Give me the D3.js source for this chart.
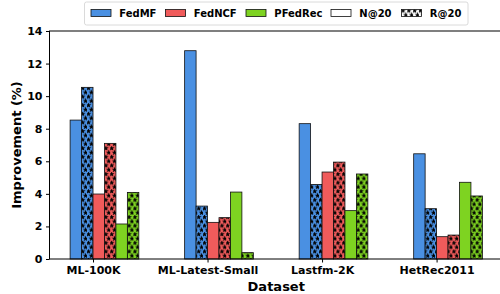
<!DOCTYPE html>
<html>
<head>
<meta charset="utf-8">
<script src="https://cdn.jsdelivr.net/npm/d3@7/dist/d3.min.js"></script>
<style>
  body { margin: 0; background: #fff; }
  text { font-family: "DejaVu Sans", sans-serif; font-weight: bold; }
</style>
</head>
<body>
<svg id="chart" width="500" height="294"></svg>
<script>
var datasets = ["ML-100K", "ML-Latest-Small", "Lastfm-2K", "HetRec2011"];
var methods = ["FedMF", "FedNCF", "PFedRec"];
var metrics = ["N@20", "R@20"];

// improvement (%) per dataset
var fedmfN  = [8.53, 12.79, 8.31, 6.46];
var fedmfR  = [10.54, 3.25, 4.58, 3.09];
var fedncfN = [3.99, 2.25, 5.34, 1.37];
var fedncfR = [7.10, 2.54, 5.95, 1.47];
var pfedN   = [2.15, 4.11, 2.97, 4.71];
var pfedR   = [4.09, 0.39, 5.22, 3.87];

var yTicks = [0, 2, 4, 6, 8, 10, 12, 14];

var colors = {FedMF: "#4a90e2", FedNCF: "#f05b5b", PFedRec: "#7ed321"};

var series = [
  {method: "FedMF", metric: "N@20", values: fedmfN},
  {method: "FedMF", metric: "R@20", values: fedmfR},
  {method: "FedNCF", metric: "N@20", values: fedncfN},
  {method: "FedNCF", metric: "R@20", values: fedncfR},
  {method: "PFedRec", metric: "N@20", values: pfedN},
  {method: "PFedRec", metric: "R@20", values: pfedR}
];

var svg = d3.select("#chart");
var barW = 0.1;

var x = d3.scaleLinear().domain([-0.38, 3.58]).range([49.5, 503]);
var y = d3.scaleLinear().domain([0, 14]).range([259, 31]);

// star hatch patterns
var defs = svg.append("defs");
var star = d3.symbol().type(d3.symbolStar).size(11)();
function addPattern(id, fill) {
  var p = defs.append("pattern")
      .attr("id", id)
      .attr("patternUnits", "userSpaceOnUse")
      .attr("width", 5.8)
      .attr("height", 8.6);
  p.append("rect").attr("width", 5.8).attr("height", 8.6).attr("fill", fill);
  [[1.5, 2.1], [4.4, 6.4]].forEach(function(c) {
    p.append("path").attr("d", star)
      .attr("transform", "translate(" + c[0] + "," + c[1] + ")")
      .attr("fill", "#000");
  });
}
methods.forEach(function(m) { addPattern("hatch-" + m, colors[m]); });
addPattern("hatch-white", "#fff");

function barFill(s) {
  return s.metric == "R@20" ? "url(#hatch-" + s.method + ")" : colors[s.method];
}

// bars
var g = svg.append("g");
series.forEach(function(s, i) {
  g.selectAll(null)
      .data(s.values)
    .enter().append("rect")
      .attr("x", function(d, j) { return x(j + (i - 2) * barW); })
      .attr("y", function(d) { return y(d); })
      .attr("width", x(barW) - x(0))
      .attr("height", function(d) { return y(0) - y(d); })
      .attr("fill", barFill(s))
      .attr("stroke", "#111")
      .attr("stroke-width", 0.8);
});

// axes
var yAxis = svg.append("g")
    .attr("transform", "translate(" + x.range()[0] + ",0)")
    .call(d3.axisLeft(y).tickValues(yTicks).tickSize(3.5).tickPadding(3.5));
var xAxis = svg.append("g")
    .attr("transform", "translate(0," + y(0) + ")")
    .call(d3.axisBottom(x).tickValues(d3.range(datasets.length))
      .tickFormat(function(d) { return datasets[d]; })
      .tickSize(3.5).tickPadding(3.5));
[yAxis, xAxis].forEach(function(a) {
  a.select(".domain").remove();
  a.selectAll("line").attr("stroke", "#000").attr("stroke-width", 1);
  a.selectAll("text").attr("font-size", 11).attr("fill", "#000")
    .attr("font-family", "DejaVu Sans").attr("font-weight", "bold");
});

// spines
svg.append("rect")
    .attr("x", x.range()[0])
    .attr("y", y(14))
    .attr("width", x.range()[1] - x.range()[0])
    .attr("height", y(0) - y(14))
    .attr("fill", "none")
    .attr("stroke", "#000")
    .attr("stroke-width", 1);

svg.append("text")
    .attr("x", (x.range()[0] + x.range()[1]) / 2)
    .attr("y", 291)
    .attr("text-anchor", "middle")
    .attr("font-size", 13)
    .text("Dataset");

svg.append("text")
    .attr("transform", "translate(21," + (y(7)) + ") rotate(-90)")
    .attr("text-anchor", "middle")
    .attr("font-size", 13)
    .text("Improvement (%)");

// legend
var legendItems = [
  {label: "FedMF", fill: colors.FedMF, x: 91},
  {label: "FedNCF", fill: colors.FedNCF, x: 165.5},
  {label: "PFedRec", fill: colors.PFedRec, x: 246},
  {label: "N@20", fill: "#fff", x: 331},
  {label: "R@20", fill: "url(#hatch-white)", x: 401.5}
];
var legend = svg.append("g");
legend.append("rect")
    .attr("x", 84.5).attr("y", 2)
    .attr("width", 383.5).attr("height", 23)
    .attr("rx", 2)
    .attr("fill", "#fff").attr("fill-opacity", 0.8)
    .attr("stroke", "#d0d0d0").attr("stroke-width", 0.8);
var li = legend.selectAll(".item")
    .data(legendItems)
  .enter().append("g")
    .attr("transform", function(d) { return "translate(" + d.x + ",0)"; });
li.append("rect")
    .attr("y", 9.5).attr("width", 20).attr("height", 7)
    .attr("fill", function(d) { return d.fill; })
    .attr("stroke", "#111").attr("stroke-width", 0.8);
li.append("text")
    .attr("x", 28.3).attr("y", 17)
    .attr("font-size", 10)
    .text(function(d) { return d.label; });
</script>
</body>
</html>
